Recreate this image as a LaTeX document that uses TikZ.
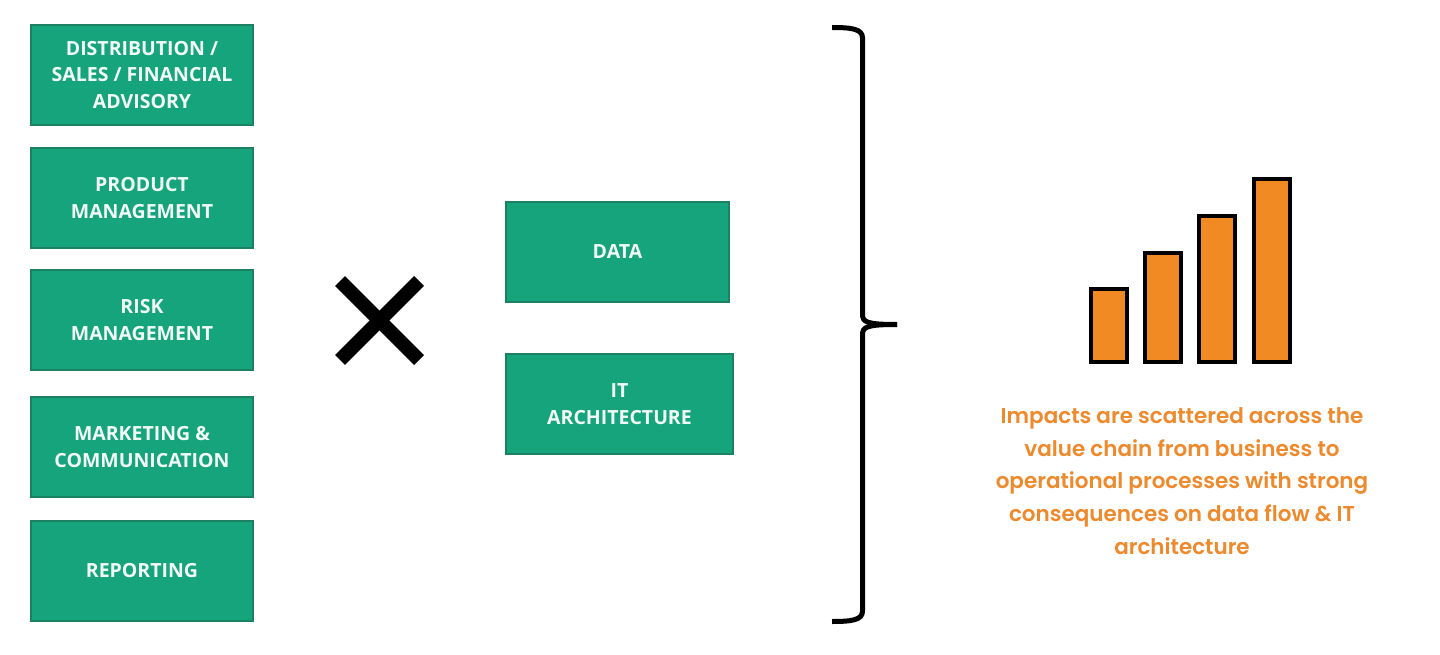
\documentclass[tikz,border=0pt]{standalone}
\usepackage{fontspec}
\usetikzlibrary{calc}
\newfontfamily\boxfont{Open Sans}
\newfontfamily\popfont{Poppins SemiBold}
\definecolor{boxgreen}{RGB}{22,164,125}
\definecolor{boxedge}{RGB}{28,128,98}
\definecolor{boxtext}{RGB}{242,250,246}
\definecolor{orng}{RGB}{241,138,34}
\definecolor{orngtext}{RGB}{238,137,44}
\begin{document}
\begin{tikzpicture}[x=1pt,y=-1pt,
  gbox/.style={draw=boxedge, line width=1.5pt, fill=boxgreen, text=boxtext,
    minimum width=222pt, minimum height=100pt, inner sep=0pt, align=center,
    font=\boxfont\bfseries\fontsize{19.5}{26.3}\selectfont},
  bar/.style={draw=black, line width=4pt, fill=orng},
  bracepath/.style={line width=5pt, line cap=butt, draw=black},
  cross/.style={line width=14pt, line cap=butt, draw=black}]
\useasboundingbox (0,0) rectangle (1440,655);
\fill[white] (0,0) rectangle (1440,655);
% left column
\node[gbox] (dist) at (142,75) {DISTRIBUTION /\\SALES / FINANCIAL\\ADVISORY};
\node[gbox] (prod) at (142,198) {PRODUCT\\MANAGEMENT};
\node[gbox] (risk) at (142,320) {RISK\\MANAGEMENT};
\node[gbox] (mkt) at (142,447) {MARKETING \&\\COMMUNICATION};
\node[gbox] (rep) at (142,571) {REPORTING};
% cross
\coordinate (xc) at (379.5,320.5);
\draw[cross] ($(xc)+(-39.5,-39.5)$) -- ($(xc)+(39.5,39.5)$);
\draw[cross] ($(xc)+(-39.5,39.5)$) -- ($(xc)+(39.5,-39.5)$);
% middle boxes
\node[gbox, minimum width=223pt] (data) at (617.5,252) {DATA};
\node[gbox, minimum width=227pt] (itarch) at (619.5,404) {IT\\ARCHITECTURE};
% brace
\coordinate (btip) at (897,324.5);
\draw[bracepath] (832,27.5) .. controls (852,27.5) and (862.5,29) .. (862.5,38) -- (862.5,314)
  .. controls (862.5,322) and (866,324.5) .. (btip);
\draw[bracepath] (btip) .. controls (866,324.5) and (862.5,327) .. (862.5,335) -- (862.5,611)
  .. controls (862.5,620) and (852,621.5) .. (832,621.5);
% bars
\draw[bar] (1091,289) rectangle (1127,362) node[midway] (b1) {};
\draw[bar] (1145,253) rectangle (1181,362) node[midway] (b2) {};
\draw[bar] (1199,216) rectangle (1235,362) node[midway] (b3) {};
\draw[bar] (1254,179) rectangle (1290,362) node[midway] (b4) {};
% caption
\node[text=orngtext, align=center, inner sep=0pt,
  font=\popfont\fontsize{21.5}{32.7}\selectfont] (cap) at (1182,481)
  {Impacts are scattered across the\\value chain from business to\\operational processes with strong\\consequences on data flow \& IT\\architecture};
\end{tikzpicture}
\end{document}
